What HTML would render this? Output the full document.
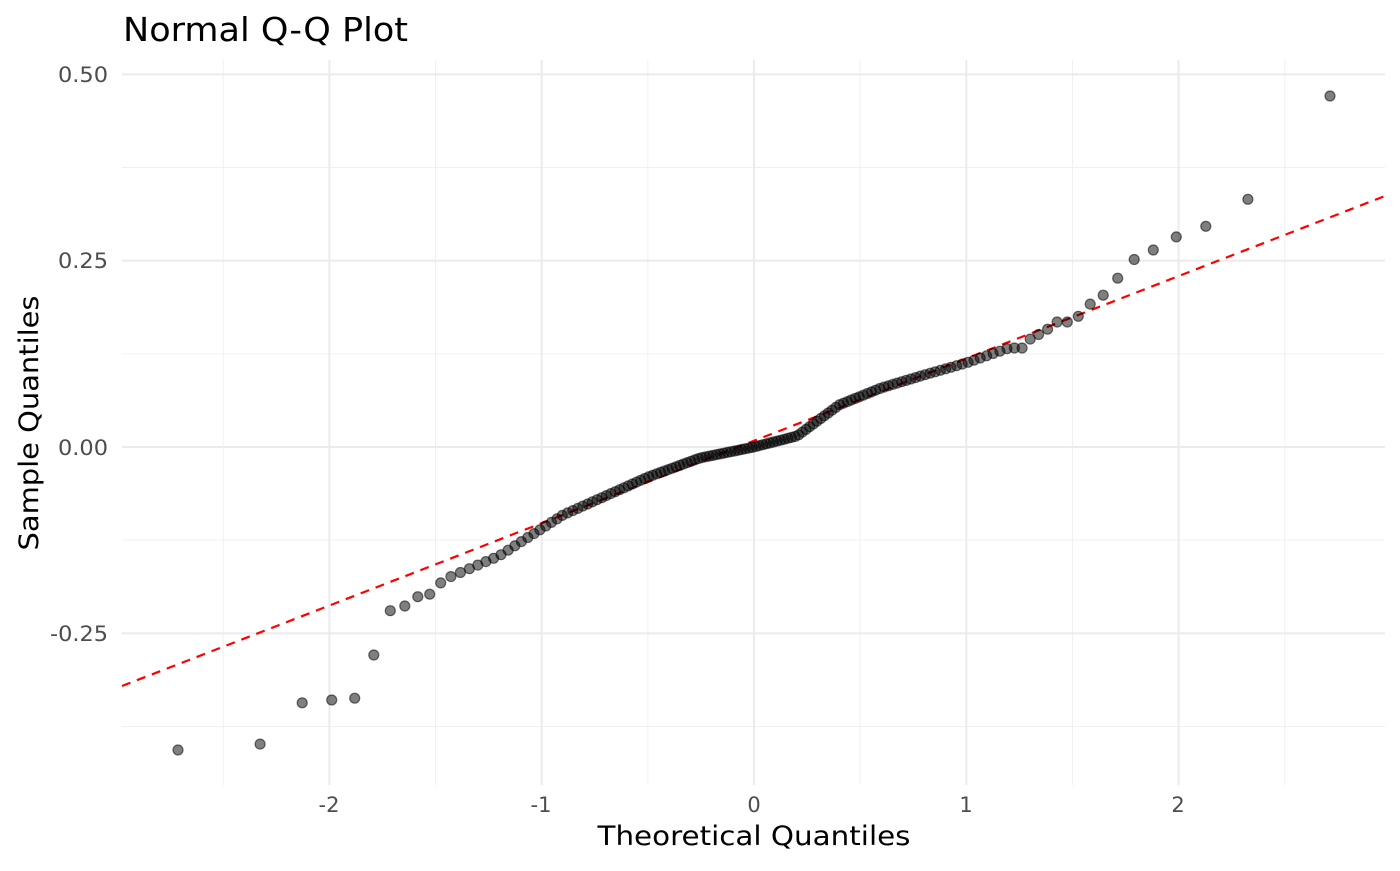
<!DOCTYPE html>
<html><head><meta charset="utf-8"><style>
html,body{margin:0;padding:0;background:#fff;}
svg text{font-family:"DejaVu Sans","Liberation Sans",sans-serif;}
</style></head><body>
<svg id="s" width="1400" height="866" xmlns="http://www.w3.org/2000/svg">
<rect width="1400" height="866" fill="#fff"/>
<g id="grid"></g>
<line x1="122" y1="686" x2="1385" y2="196" stroke="#ff0000" stroke-width="2.2" stroke-dasharray="9,7"/>
<g id="pts"></g>
<text x="123" y="41" font-size="33" fill="#000" textLength="285" lengthAdjust="spacingAndGlyphs">Normal Q-Q Plot</text>
<g font-size="21" fill="#4d4d4d" text-anchor="end">
<text x="108" y="82" textLength="50" lengthAdjust="spacingAndGlyphs">0.50</text>
<text x="108" y="268" textLength="50" lengthAdjust="spacingAndGlyphs">0.25</text>
<text x="108" y="455" textLength="50" lengthAdjust="spacingAndGlyphs">0.00</text>
<text x="108" y="641" textLength="58" lengthAdjust="spacingAndGlyphs">-0.25</text>
</g>
<g font-size="21" fill="#4d4d4d" text-anchor="middle">
<text x="329" y="812">-2</text>
<text x="541" y="812">-1</text>
<text x="754" y="812">0</text>
<text x="966" y="812">1</text>
<text x="1178" y="812">2</text>
</g>
<text x="754" y="845" font-size="27" text-anchor="middle" fill="#000" textLength="313" lengthAdjust="spacingAndGlyphs">Theoretical Quantiles</text>
<text transform="translate(38,423) rotate(-90)" font-size="27" text-anchor="middle" fill="#000" textLength="255" lengthAdjust="spacingAndGlyphs">Sample Quantiles</text>
</svg>
<script>
function X(q){return 754+q*212.3;}
function Y(v){return 447-v*745.3;}
var g=document.getElementById('grid'),h='';
[-2.5,-1.5,-0.5,0.5,1.5,2.5].forEach(function(q){h+='<line x1="'+X(q)+'" x2="'+X(q)+'" y1="60" y2="785" stroke="#f0f0f0" stroke-width="1"/>';});
[0.375,0.125,-0.125,-0.375].forEach(function(v){h+='<line y1="'+Y(v)+'" y2="'+Y(v)+'" x1="122" x2="1385" stroke="#f0f0f0" stroke-width="1"/>';});
[-2,-1,0,1,2].forEach(function(q){h+='<line x1="'+X(q)+'" x2="'+X(q)+'" y1="60" y2="785" stroke="#ebebeb" stroke-width="2"/>';});
[0.5,0.25,0,-0.25].forEach(function(v){h+='<line y1="'+Y(v)+'" y2="'+Y(v)+'" x1="122" x2="1385" stroke="#ebebeb" stroke-width="2"/>';});
g.innerHTML=h;
function qnorm(p){var a=[-39.69683028665376,220.9460984245205,-275.9285104469687,138.357751867269,-30.66479806614716,2.506628277459239],b=[-54.47609879822406,161.5858368580409,-155.6989798598866,66.80131188771972,-13.28068155288572],c=[-0.007784894002430293,-0.3223964580411365,-2.400758277161838,-2.549732539343734,4.374664141464968,2.938163982698783],d=[0.007784695709041462,0.3224671290700398,2.445134137142996,3.754408661907416];var q,r;if(p<0.02425){q=Math.sqrt(-2*Math.log(p));return(((((c[0]*q+c[1])*q+c[2])*q+c[3])*q+c[4])*q+c[5])/((((d[0]*q+d[1])*q+d[2])*q+d[3])*q+1);}if(p>1-0.02425){q=Math.sqrt(-2*Math.log(1-p));return-(((((c[0]*q+c[1])*q+c[2])*q+c[3])*q+c[4])*q+c[5])/((((d[0]*q+d[1])*q+d[2])*q+d[3])*q+1);}q=p-0.5;r=q*q;return(((((a[0]*r+a[1])*r+a[2])*r+a[3])*r+a[4])*r+a[5])*q/(((((b[0]*r+b[1])*r+b[2])*r+b[3])*r+b[4])*r+1);}
var px=[[179,750],[262,744],[304,701],[333,700],[357,698],[375,652],[392,606],[406,606],[420,595],[432,594],[443,580],[499,556],[563,515],[648,477],[700,458],[754,447],[797,436],[839,405],[881,388],[924,375],[966,363],[1009,348],[1024,348],[1033,335],[1044,334],[1053,322],[1064,322],[1074,322],[1086,306],[1099,300],[1114,283],[1131,261],[1150,252],[1173,238],[1203,228],[1245,203],[1328,96]];
var A=px.map(function(p){return[(p[0]-754)/212.3,(447-p[1])/745.3];});
function f(q){if(q<=A[0][0])return A[0][1];for(var i=1;i<A.length;i++){if(q<=A[i][0]){var t=(q-A[i-1][0])/(A[i][0]-A[i-1][0]);return A[i-1][1]+t*(A[i][1]-A[i-1][1]);}}return A[A.length-1][1];}
var n=150,s='';
for(var i=1;i<=n;i++){var q=qnorm((i-0.5)/n);s+='<circle cx="'+X(q).toFixed(1)+'" cy="'+Y(f(q)).toFixed(1)+'" r="5" fill="rgba(0,0,0,0.5)" stroke="rgba(0,0,0,0.55)" stroke-width="1.2"/>';}
document.getElementById('pts').innerHTML=s;
</script>
</body></html>
